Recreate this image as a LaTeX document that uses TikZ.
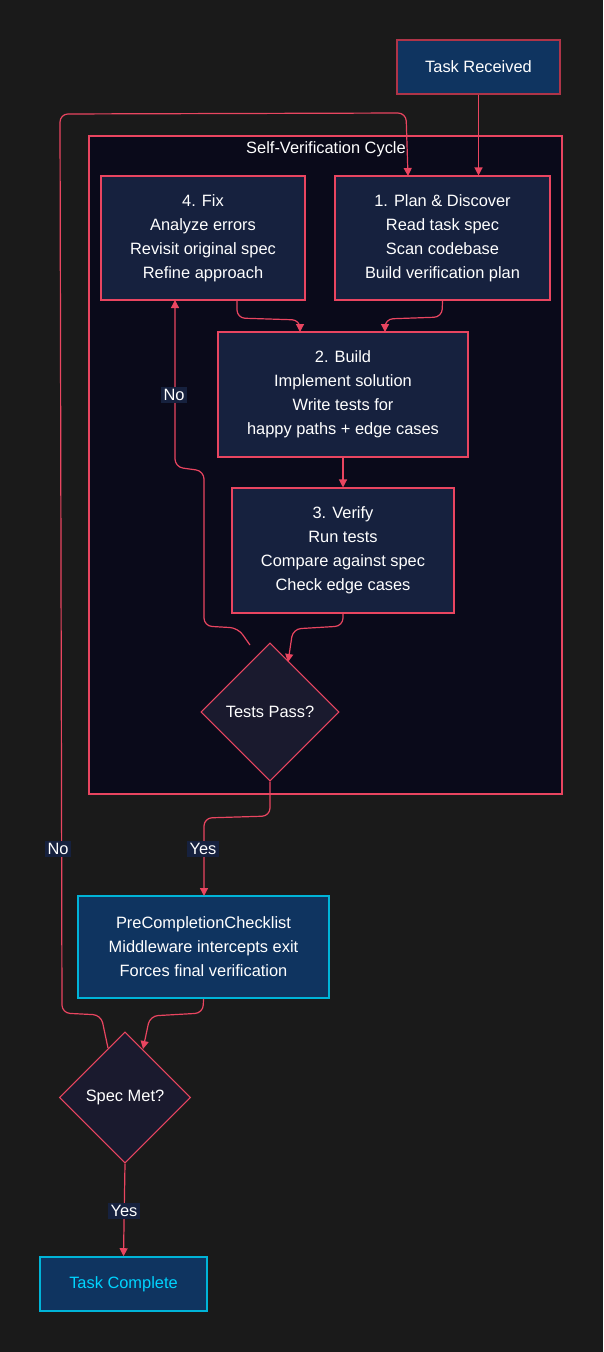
\documentclass[tikz,border=0pt]{standalone}
\usepackage{fontspec}
\setmainfont{Liberation Sans}
\usetikzlibrary{shapes.geometric,arrows.meta}
\definecolor{bg}{HTML}{1A1A1A}
\definecolor{clus}{HTML}{0A0A1A}
\definecolor{red}{HTML}{E94560}
\definecolor{nodef}{HTML}{16213E}
\definecolor{blue}{HTML}{0F3460}
\definecolor{cyan}{HTML}{00B4D8}
\definecolor{ctext}{HTML}{00D4FF}
\definecolor{dia}{HTML}{1A1A2E}
\begin{document}
\begin{tikzpicture}[x=0.75pt,y=-0.75pt,font=\fontsize{12.3}{18}\selectfont,
  box/.style={draw=red,fill=nodef,text=white,align=center,inner sep=0,line width=0.8pt},
  dm/.style={diamond,draw=red,fill=dia,text=white,inner sep=0,minimum width=#1,minimum height=#1,line width=0.8pt},
  e/.style={draw=red,line width=0.9pt,rounded corners=6pt,-{Triangle[length=6pt,width=6pt]}},
  lab/.style={fill=nodef,text=white,inner sep=2pt}]
\fill[bg] (0,0) rectangle (603,1352);
\useasboundingbox (0,0) rectangle (603,1352);
\node[draw=red,fill=clus,line width=1pt,minimum width=473*0.75pt,minimum height=658*0.75pt,inner sep=0] (clus) at (325.5,465) {};
\node[text=white] (ct) at (326,149) {Self-Verification Cycle};
\node[box,fill=blue,draw=red!75!black,minimum width=163*0.75pt,minimum height=54*0.75pt] (tr) at (478.5,67) {Task Received};
\node[box,minimum width=204*0.75pt,minimum height=124*0.75pt] (fix) at (203,238) {4. Fix\\Analyze errors\\Revisit original spec\\Refine approach};
\node[box,minimum width=215*0.75pt,minimum height=124*0.75pt] (plan) at (442.5,238) {1. Plan \& Discover\\Read task spec\\Scan codebase\\Build verification plan};
\node[box,minimum width=250*0.75pt,minimum height=125*0.75pt] (build) at (343,394.5) {2. Build\\Implement solution\\Write tests for\\happy paths + edge cases};
\node[box,minimum width=222*0.75pt,minimum height=125*0.75pt] (ver) at (343,550.5) {3. Verify\\Run tests\\Compare against spec\\Check edge cases};
\node[dm=138*0.75pt] (tp) at (270,712) {Tests Pass?};
\node[box,fill=blue,draw=cyan,line width=1.2pt,minimum width=251*0.75pt,minimum height=102*0.75pt] (pc) at (203.5,947) {PreCompletionChecklist\\Middleware intercepts exit\\Forces final verification};
\node[dm=131*0.75pt] (sm) at (125,1097.5) {Spec Met?};
\node[box,fill=blue,draw=cyan,line width=1.2pt,text=ctext,minimum width=167*0.75pt,minimum height=54*0.75pt] (tc) at (123.5,1284) {Task Complete};
\coordinate (a1) at (237,300);
\draw[e] (tr) -- (plan.north -| tr);
\draw[e] (a1) -- (237,318) -- (300,320) -- (300,332);
\draw[e] (plan.south) -- (442,317) -- (385,319) -- (385,332);
\draw[e] (build) -- (ver);
\draw[e] (ver.south) -- (343,626) -- (293,629) -- (288,662);
\draw[e] (250,645) -- (238,628) -- (204,626) -- (204,471) -- (175,467) -- (175,300);
\node[lab] at (174,395) {No};
\draw[e] (tp.south) -- (270,816) -- (204,818) -- (204,896);
\node[lab] at (203,849) {Yes};
\draw[e] (pc.south) -- (203,1013) -- (150,1016) -- (143,1049);
\draw[e] (108,1048) -- (101,1015) -- (62,1013) -- (60,114) -- (406,113) -- (408,176);
\node[lab] at (58,849) {No};
\draw[e] (sm.south) -- (tc.north);
\node[lab] at (124,1211) {Yes};
\end{tikzpicture}
\end{document}
